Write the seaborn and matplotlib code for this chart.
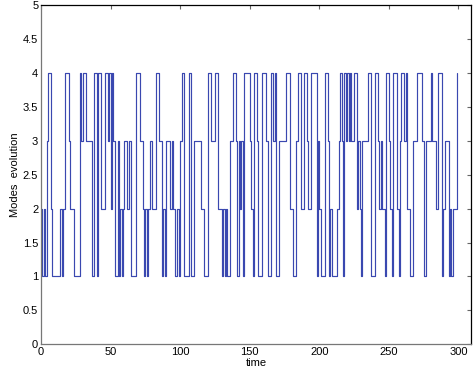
import numpy as np
import pandas as pd
import matplotlib
matplotlib.use("Agg")
import matplotlib.pyplot as plt
import seaborn as sns

# mode sequence, one value per time step
modes = [
    2, 1, 2, 1, 3, 4, 4, 2, 1, 1,
    1, 1, 1, 1, 2, 1, 2, 4, 4, 4,
    3, 2, 2, 2, 1, 1, 1, 1, 4, 3,
    4, 4, 3, 3, 3, 3, 3, 1, 4, 4,
    1, 4, 4, 2, 2, 2, 4, 4, 3, 4,
    2, 4, 3, 1, 1, 3, 1, 2, 1, 2,
    3, 3, 2, 3, 3, 1, 1, 1, 4, 4,
    4, 3, 3, 2, 1, 2, 1, 2, 3, 3,
    2, 2, 2, 4, 4, 3, 3, 1, 2, 1,
    3, 3, 3, 2, 3, 2, 1, 1, 2, 1,
    3, 4, 4, 1, 1, 1, 4, 4, 1, 1,
    3, 3, 3, 3, 3, 2, 2, 1, 1, 1,
    4, 4, 3, 3, 3, 4, 4, 2, 2, 2,
    1, 2, 1, 2, 1, 1, 3, 3, 4, 4,
    3, 1, 3, 2, 3, 1, 4, 4, 4, 4,
    3, 2, 1, 4, 4, 3, 1, 1, 1, 4,
    4, 4, 3, 1, 1, 4, 4, 3, 4, 1,
    1, 3, 3, 3, 3, 3, 4, 4, 4, 2,
    2, 1, 1, 3, 3, 4, 4, 2, 2, 4,
    4, 3, 2, 2, 4, 4, 4, 4, 1, 3,
    2, 1, 1, 1, 4, 4, 3, 1, 2, 1,
    1, 1, 1, 2, 3, 4, 3, 1, 4, 3,
    4, 3, 4, 3, 3, 4, 4, 2, 3, 2,
    1, 3, 3, 3, 3, 4, 4, 1, 1, 1,
    4, 4, 3, 2, 3, 2, 2, 1, 4, 4,
    3, 2, 1, 4, 4, 4, 2, 1, 3, 4,
    4, 3, 4, 2, 2, 1, 1, 3, 3, 3,
    4, 4, 4, 4, 3, 1, 1, 3, 3, 3,
    4, 3, 3, 3, 2, 4, 4, 4, 1, 2,
    3, 3, 3, 1, 2, 1, 2, 2, 2, 4,
]
time = np.arange(len(modes))

df = pd.DataFrame({"time": time, "mode": modes})

sns.set_style("white")
plt.rcParams["font.family"] = ["Liberation Sans", "DejaVu Sans"]

fig = plt.figure(figsize=(4.73, 3.77), dpi=100)
ax = fig.add_axes([0.0867, 0.087, 0.9090, 0.8990])

sns.lineplot(data=df, x="time", y="mode", estimator=None, drawstyle="steps-post",
             color="#3a48b0", linewidth=0.85, ax=ax)

ax.set_xlim(0, 309)
ax.set_ylim(0, 5)
ax.set_xticks([0, 50, 100, 150, 200, 250, 300])
ax.set_yticks(np.arange(0, 5.01, 0.5))
ax.set_yticklabels(["0", "0.5", "1", "1.5", "2", "2.5", "3", "3.5", "4", "4.5", "5"])
ax.set_xlabel("time", fontsize=8, labelpad=1, color="black")
ax.set_ylabel("Modes  evolution", fontsize=8, labelpad=2, color="black")

ax.tick_params(direction="in", length=3, width=0.8, labelsize=8,
               top=True, right=True, color="#666666", labelcolor="black", pad=2)
for s in ["left", "bottom"]:
    ax.spines[s].set_color("#777777")
for s in ["top", "right"]:
    ax.spines[s].set_color("black")
for s in ax.spines.values():
    s.set_linewidth(0.9)

fig.savefig("out.png", dpi=100)
